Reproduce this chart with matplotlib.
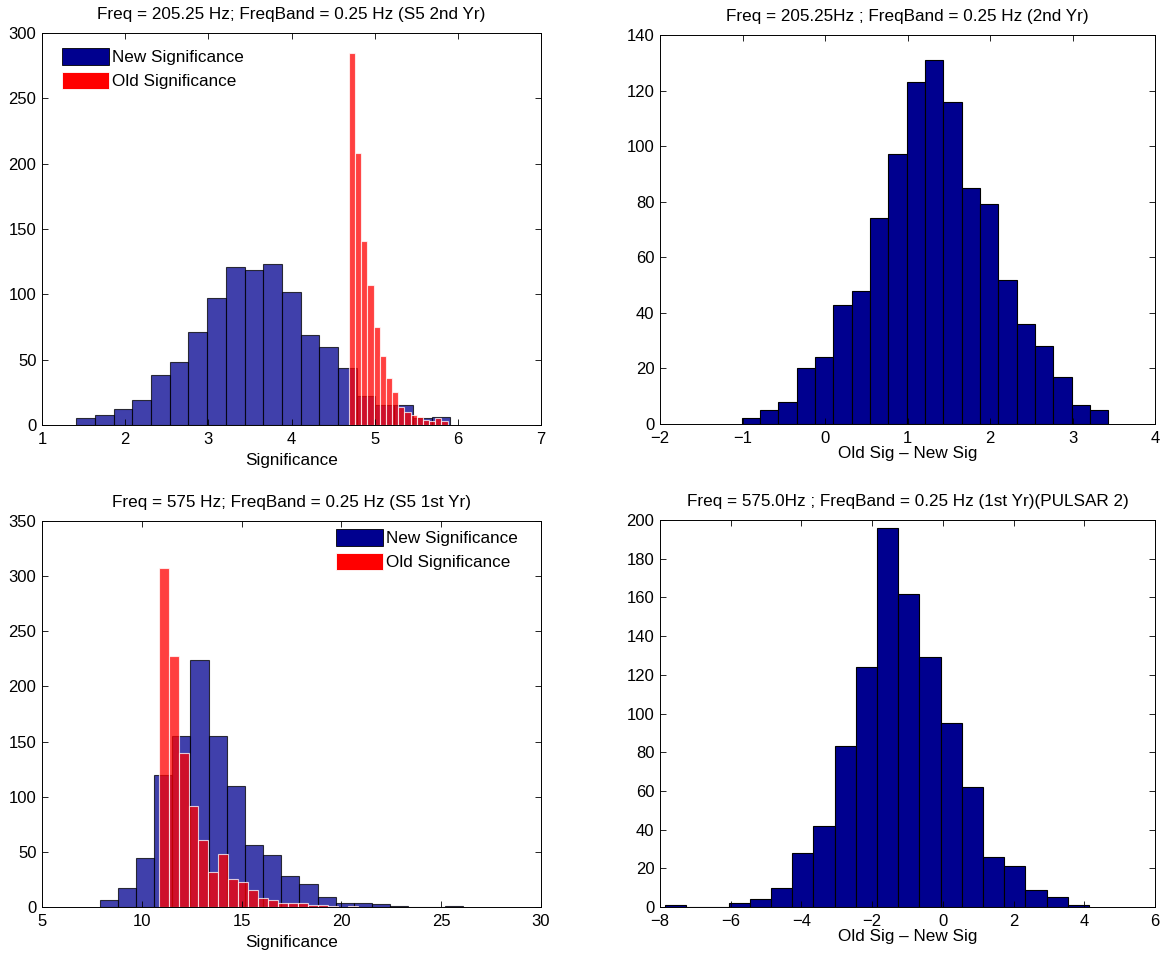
import matplotlib
matplotlib.use('Agg')
import matplotlib.pyplot as plt
import numpy as np
from matplotlib.patches import Patch

plt.rcParams['font.family'] = ['Liberation Sans', 'DejaVu Sans']

# --- Freq 205.25 Hz, S5 2nd year -------------------------------------------
sig2_new_range = (1.41, 5.91)
sig2_new_counts = [5, 8, 12, 19, 38, 48, 71, 97, 121, 119,
                   123, 102, 69, 60, 44, 22, 15, 15, 5, 6]
sig2_old_range = (4.69, 5.876)
sig2_old_counts = [285, 208, 141, 107, 75, 53, 36, 25,
                   14, 10, 8, 6, 4, 3, 5, 3]

diff2_range = (-1.01, 3.433)
diff2_counts = [2, 5, 8, 20, 24, 43, 48, 74, 97, 123,
                131, 116, 85, 79, 52, 36, 28, 17, 7, 5]

# --- Freq 575 Hz, S5 1st year -----------------------------------------------
sig1_new_range = (7.884, 26.09)
sig1_new_counts = [6, 17, 44, 120, 155, 224, 155, 110, 56, 47,
                   28, 21, 9, 4, 4, 3, 1, 0, 0, 1]
sig1_old_range = (10.84, 20.84)
sig1_old_counts = [307, 228, 140, 92, 61, 32, 48, 25, 23, 15,
                   8, 6, 4, 4, 4, 2, 2, 1, 0, 1]

diff1_range = (-7.862, 4.137)
diff1_counts = [1, 0, 0, 2, 4, 10, 28, 42, 83, 124,
                196, 162, 129, 95, 62, 26, 21, 9, 5, 1]

titles = ['Freq = 205.25 Hz; FreqBand = 0.25 Hz (S5 2nd Yr)',
          'Freq = 205.25Hz ; FreqBand = 0.25 Hz (2nd Yr)',
          'Freq = 575 Hz; FreqBand = 0.25 Hz (S5 1st Yr)',
          'Freq = 575.0Hz ; FreqBand = 0.25 Hz (1st Yr)(PULSAR 2)']
legend_labels = ['New Significance', 'Old Significance']

NAVY = '#00008F'
W, H = 1168, 959


def edges(rng, counts):
    return np.linspace(rng[0], rng[1], len(counts) + 1)


def draw_hist(ax, rng, counts, **kw):
    e = edges(rng, counts)
    ax.hist(e[:-1], bins=e, weights=counts, **kw)


def style(ax, xlim, xticks, ylim, yticks, title, xlabel, labelpad):
    ax.set_xlim(*xlim)
    ax.set_ylim(*ylim)
    ax.set_xticks(xticks)
    ax.set_yticks(yticks)
    ax.tick_params(direction='in', top=True, right=True, length=4,
                   width=0.6, labelsize=12)
    ax.tick_params(axis='x', pad=5)
    ax.tick_params(axis='y', pad=4)
    for s in ax.spines.values():
        s.set_linewidth(0.7)
    ax.set_title(title, fontsize=12.3, pad=10)
    ax.set_xlabel(xlabel, fontsize=12.3, labelpad=labelpad)


def px_axes(fig, x0, y0, x1, y1):
    return fig.add_axes([x0 / W, 1 - y1 / H, (x1 - x0) / W, (y1 - y0) / H])


fig = plt.figure(figsize=(W / 100, H / 100), dpi=100)

ax_tl = px_axes(fig, 42, 33, 541, 425)
ax_tr = px_axes(fig, 660, 35, 1155, 424)
ax_bl = px_axes(fig, 42, 521, 541, 907)
ax_br = px_axes(fig, 660, 520, 1155, 907)

new_kw = dict(color=NAVY, alpha=0.75, edgecolor='k', linewidth=0.8)
old_kw = dict(color='red', alpha=0.75, edgecolor='white', linewidth=0.8)
handles = [Patch(facecolor=NAVY, edgecolor='k', linewidth=0.6),
           Patch(facecolor='red', edgecolor='white', linewidth=0.6)]
leg_kw = dict(frameon=False, fontsize=12.3, handlelength=2.75,
              handleheight=1.15, handletextpad=0.2, labelspacing=0.4,
              borderpad=0, borderaxespad=0, loc='upper left')

# top left
draw_hist(ax_tl, sig2_new_range, sig2_new_counts, **new_kw)
draw_hist(ax_tl, sig2_old_range, sig2_old_counts, **old_kw)
style(ax_tl, (1, 7), range(1, 8), (0, 300), range(0, 301, 50),
      titles[0], 'Significance', 4)
ax_tl.legend(handles, legend_labels, bbox_to_anchor=(0.04, 0.962), **leg_kw)

# top right
draw_hist(ax_tr, diff2_range, diff2_counts, color=NAVY, edgecolor='k',
          linewidth=0.8)
style(ax_tr, (-2, 4), range(-2, 5), (0, 140), range(0, 141, 20),
      titles[1], 'Old Sig – New Sig', 0)

# bottom left
draw_hist(ax_bl, sig1_new_range, sig1_new_counts, **new_kw)
draw_hist(ax_bl, sig1_old_range, sig1_old_counts, **old_kw)
style(ax_bl, (5, 30), range(5, 31, 5), (0, 350), range(0, 351, 50),
      titles[2], 'Significance', 4)
ax_bl.legend(handles, legend_labels, bbox_to_anchor=(0.589, 0.98), **leg_kw)

# bottom right
draw_hist(ax_br, diff1_range, diff1_counts, color=NAVY, edgecolor='k',
          linewidth=0.8)
style(ax_br, (-8, 6), range(-8, 7, 2), (0, 200), range(0, 201, 20),
      titles[3], 'Old Sig – New Sig', 0)

fig.savefig('out.png', dpi=100)
